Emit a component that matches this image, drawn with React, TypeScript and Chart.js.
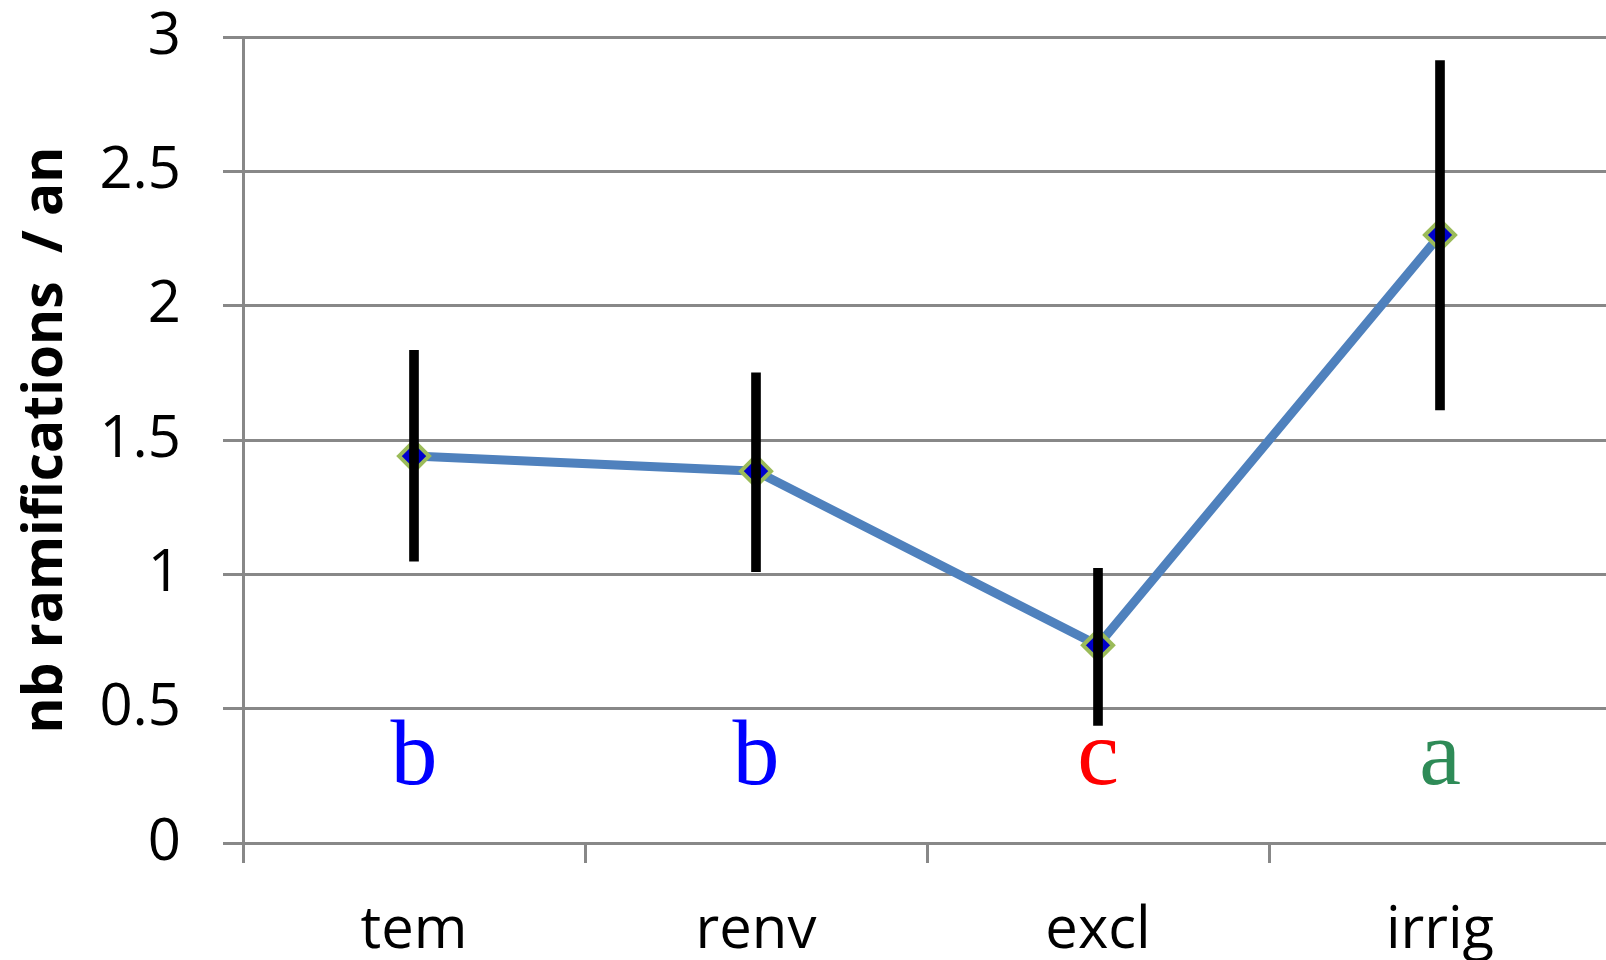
import React, { useEffect, useRef } from "react";
import { Chart, registerables } from "chart.js";

Chart.register(...registerables);

const categories = ["tem", "renv", "excl", "irrig"];
const means = [1.44, 1.384, 0.736, 2.263];
const errLow = [1.049, 1.01, 0.438, 1.612];
const errHigh = [1.834, 1.75, 1.022, 2.912];
const groupLetters = ["b", "b", "c", "a"];
const letterColors = ["#0000FF", "#0000FF", "#FF0000", "#2E8B57"];
const letterValue = 0.22;
const yTicks = [0, 0.5, 1, 1.5, 2, 2.5, 3];

const letterPlugin = {
  id: "groupLetters",
  afterDatasetsDraw(chart: any) {
    const { ctx, scales } = chart;
    const xs = scales.x;
    const ys = scales.y;
    ctx.save();
    ctx.font = "94px 'Liberation Serif', serif";
    ctx.textAlign = "center";
    ctx.textBaseline = "alphabetic";
    groupLetters.forEach((l, i) => {
      ctx.fillStyle = letterColors[i];
      ctx.fillText(l, xs.getPixelForValue(i), ys.getPixelForValue(letterValue));
    });
    ctx.restore();
  },
};

export default function App() {
  const ref = useRef<HTMLCanvasElement | null>(null);
  useEffect(() => {
    document.body.style.margin = "0";
    const canvas = ref.current!;
    const chart = new Chart(canvas, {
      type: "line",
      data: {
        labels: categories,
        datasets: [
          {
            type: "bar",
            data: categories.map((_, i) => [errLow[i], errHigh[i]]),
            backgroundColor: "#000000",
            barThickness: 9,
            order: 0,
          } as any,
          {
            type: "line",
            data: means,
            borderColor: "#4F81BD",
            borderWidth: 9,
            pointStyle: "rectRot",
            pointRadius: 15,
            pointBackgroundColor: "#0000CC",
            pointBorderColor: "#9BBB59",
            pointBorderWidth: 4,
            tension: 0,
            order: 1,
          },
        ],
      },
      options: {
        animation: false,
        responsive: false,
        layout: { padding: { top: 0, right: 8, left: 0, bottom: 0 } },
        plugins: { legend: { display: false }, tooltip: { enabled: false } },
        scales: {
          x: {
            type: "category",
            offset: true,
            grid: {
              offset: true,
              drawOnChartArea: false,
              color: "#888888",
              lineWidth: 3,
              tickLength: 20,
            },
            border: { color: "#888888", width: 3 },
            ticks: {
              color: "#000000",
              font: { family: "'Open Sans'", size: 58 },
              padding: 34,
              maxRotation: 0,
            },
            afterFit(scale: any) {
              scale.height = 117;
            },
          },
          y: {
            min: 0,
            max: 3,
            afterBuildTicks(scale: any) {
              scale.ticks = yTicks.map((v) => ({ value: v }));
            },
            grid: { color: "#888888", lineWidth: 3, tickLength: 20 },
            border: { color: "#888888", width: 3 },
            ticks: {
              color: "#000000",
              font: { family: "'Open Sans'", size: 58 },
              padding: 42,
              callback: (v: any) => String(v),
            },
            title: {
              display: true,
              text: "nb ramifications  / an",
              color: "#000000",
              font: { family: "'Open Sans'", size: 55, weight: "bold" },
              padding: { top: 13, bottom: 0 },
            },
            afterFit(scale: any) {
              scale.width = 243;
              scale.paddingTop = 37;
            },
          },
        },
      },
      plugins: [letterPlugin],
    });
    return () => chart.destroy();
  }, []);
  return (
    <div style={{ position: "fixed", left: 0, top: 0, width: 1606, height: 960, overflow: "hidden", background: "#fff" }}>
      <canvas ref={ref} width={1630} height={960} style={{ display: "block" }} />
    </div>
  );
}
